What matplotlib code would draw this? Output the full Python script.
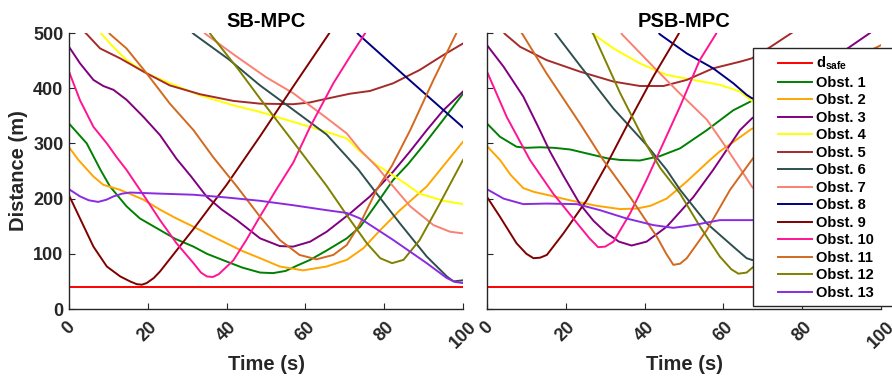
import numpy as np
import matplotlib
matplotlib.use("Agg")
import matplotlib.pyplot as plt
from matplotlib.legend_handler import HandlerLine2D

plt.rcParams['font.family'] = ['Liberation Sans', 'DejaVu Sans']
plt.rcParams['font.weight'] = 'bold'
plt.rcParams['mathtext.fontset'] = 'custom'
plt.rcParams['mathtext.bf'] = 'Liberation Sans:bold'
plt.rcParams['mathtext.rm'] = 'Liberation Sans'

# ---------------- data: (time [s], distance [m]) ----------------
d_safe_t = [0, 100]
d_safe_d = [40, 40]

# SB-MPC
sb_obs1 = [(0,336),(4.5,300),(8,252),(10.4,222),(14.6,186),(18,164),(23.1,143),(27,127),(31.6,113),
           (35,100),(40,86),(44,75),(48.5,66),(51.8,65),(55,69),(58,79),(61.2,89),(65.4,106),(70.5,128),
           (73.9,149),(78.1,191),(82.3,234),(86,262),(90,297),(95,343),(100,390)]
sb_obs2 = [(0,293),(2.4,270),(6.2,240),(8.7,225),(12.9,216),(15,210),(18.9,198),(23.1,180),(27,165),
           (31.6,149),(36,133),(40,119),(44,105),(48.5,92),(53.5,77),(59.4,70),(65.4,77),(70.5,89),
           (74.7,110),(79,143),(84,179),(90.8,222),(94.2,252),(100,303)]
sb_obs3 = [(0,475),(2.8,445),(6.2,415),(8.7,404),(11.3,397),(14.6,379),(18.9,348),(23.1,315),(27.3,272),
           (31,240),(35,203),(38.8,180),(42.6,161),(48.5,128),(53.5,114),(56.9,113),(61.2,122),(65.4,140),
           (71.3,173),(76.4,204),(82.3,249),(86.5,285),(90.8,324),(95,360),(100,394)]
sb_obs4 = [(7.5,505),(8.3,498),(10.8,478),(14.6,451),(19.7,427),(25.6,409),(33.3,387),(41.7,369),
           (48.5,357),(56.9,339),(65.4,321),(70.5,309),(73.9,285),(78.1,261),(84,234),(89,209),(95,196),(100,190)]
sb_obs5 = [(3.5,505),(4.5,498),(7.9,472),(13,454),(18.9,430),(25.6,405),(33.3,389),(41.7,377),(48.5,372),
           (56.9,371),(61,374),(65.4,381),(71.3,390),(76.4,395),(82.3,409),(89,433),(95,460),(100,481)]
sb_obs6 = [(31,503),(31.7,498),(40.6,452),(48.5,405),(56.9,361),(65.4,316),(70.5,276),(73.5,252),
           (78.1,209),(84,155),(90.8,95),(95.9,59),(97.6,50),(100,52)]
sb_obs7 = [(34,503),(34.7,498),(42,460),(50,420),(56.9,391),(65.4,346),(70.5,318),(73.9,288),(78.1,258),
           (82.3,222),(86.6,186),(92.5,152),(96.7,140),(100,137)]
sb_obs8 = [(73,502),(73.4,498),(84.8,425),(100,329)]
sb_obs9 = [(0,206),(2.8,164),(6.2,113),(9.6,77),(13,59),(15.5,50),(17.2,45),(18.5,44),(19.7,47),(21.5,56),
           (23.1,68),(31.6,145),(40,225),(48.5,313),(56.9,403),(66,499),(66.5,505)]
sb_obs10 = [(0,430),(2.8,378),(6.2,330),(9.6,300),(12.1,275),(14.6,252),(16.3,234),(19.7,198),(23.1,161),
            (27.3,119),(31.6,83),(33.5,66),(35,59),(36.5,58),(38,63),(41.7,88),(45,125),(48.5,168),
            (52.5,215),(56.9,265),(61.2,330),(67.1,409),(71.3,457),(75.1,499),(75.5,505)]
sb_obs11 = [(10,503),(10.4,498),(14.6,472),(19.7,427),(25.6,372),(31.6,324),(36.6,275),(42.6,222),
            (48.5,167),(53.5,125),(58.5,98),(62.8,90),(67.1,98),(70.5,116),(73.9,155),(78.1,216),
            (82,260),(86.6,324),(92.5,415),(98.2,498),(98.6,505)]
sb_obs12 = [(35.5,503),(35.9,498),(43.1,433),(48.5,381),(56.9,303),(62,255),(65.4,223),(70.5,170),
            (75.6,119),(79,92),(82,83),(84.9,89),(89,125),(94.1,191),(100,270)]
sb_obs13 = [(0,217),(2.8,204),(5,197),(7.4,194),(9.5,198),(11.3,204),(13.5,209),(15.5,211),(23.1,209),
            (31.6,207),(40,202),(48.5,196),(56.9,188),(65.4,179),(70.5,174),(73.9,164),(78,145),(82.3,125),
            (90.8,83),(95.9,56),(98,49),(100,47)]

# PSB-MPC
psb_obs1 = [(0,336),(3.3,312),(7.5,294),(10,292),(13.5,293),(17,292),(21.1,289),(27,279),(30.5,273),
            (33.8,270),(38.8,269),(43.9,277),(49,291),(55.8,324),(62.5,360),(67.2,377),(70,385)]
psb_obs2 = [(0,295),(3.3,270),(6,243),(9.2,219),(12,212),(15.1,207),(21,197),(27.8,187),(33.8,181),
            (38,182),(41.5,187),(45.6,200),(50.7,231),(56.6,270),(59,285),(63,305),(67.1,326),(70,335)]
psb_obs3 = [(0,478),(4.2,439),(9.2,385),(13,330),(16,285),(19.5,240),(23.6,190),(27,160),(30.4,137),
            (33.5,122),(36.7,115),(40.5,122),(45.6,149),(52.4,203),(57.4,252),(64.2,324),(67.2,345),
            (75,385),(85,440),(97.2,500),(98,505)]
psb_obs4 = [(26.5,503),(27,498),(32.1,472),(38.8,445),(45.6,424),(52.4,415),(59.1,406),(64.2,394),
            (67.2,377),(70,365)]
psb_obs5 = [(4,503),(4.6,498),(8.4,475),(15.1,451),(23.6,430),(32.1,412),(38.8,404),(44.8,404),(50.7,415),
            (57.4,436),(64.2,448),(67.2,454),(72,475),(77.3,500),(80,512)]
psb_obs6 = [(17,503),(17.5,498),(23.6,441),(32.1,363),(40.5,297),(45.6,252),(49,216),(55.8,155),
            (62.5,113),(65.9,92),(67.2,89),(70,87)]
psb_obs7 = [(34,503),(34.2,498),(42.2,439),(49,390),(55.8,343),(60,300),(64.2,255),(67.2,222),(70,200)]
psb_obs8 = [(43.5,503),(43.8,498),(50.7,463),(57.4,436),(62.5,409),(65.9,388),(67.2,382),(70,378)]
psb_obs9 = [(0,203),(3.3,167),(7.5,119),(10,100),(11.8,92),(13.5,93),(15.2,98),(19.4,137),(25.3,197),
            (30.4,262),(36.3,343),(42.2,421),(48.6,498),(49,505)]
psb_obs10 = [(0,430),(5,348),(10.9,270),(16.8,209),(23.6,149),(26,128),(28.2,112),(30,113),(32.1,122),
             (36.3,173),(40.5,234),(49,367),(54,451),(58.1,498),(58.5,505)]
psb_obs11 = [(8.5,503),(9,498),(15.1,427),(23.6,336),(29.5,270),(36.3,203),(43.1,131),(45.5,100),
             (47.3,80),(49,82),(50.7,92),(55.8,143),(61.7,216),(67.2,270),(75,340),(85,410),(92,450),(100,478)]
psb_obs12 = [(26.5,503),(27,498),(33.8,391),(40.5,297),(44,255),(49,209),(54.1,149),(59.1,95),(62,72),
             (63.8,64),(65.9,66),(67.2,74),(70,90)]
psb_obs13 = [(0,217),(4.2,200),(9.2,190),(15.1,191),(22.8,190),(28.7,179),(35.4,164),(42.2,152),
             (47.3,147),(52.4,152),(59.1,161),(67.2,161),(70,161)]

sb_series = [sb_obs1, sb_obs2, sb_obs3, sb_obs4, sb_obs5, sb_obs6, sb_obs7,
             sb_obs8, sb_obs9, sb_obs10, sb_obs11, sb_obs12, sb_obs13]
psb_series = [psb_obs1, psb_obs2, psb_obs3, psb_obs4, psb_obs5, psb_obs6, psb_obs7,
              psb_obs8, psb_obs9, psb_obs10, psb_obs11, psb_obs12, psb_obs13]

obs_labels = [f"Obst. {i}" for i in range(1, 14)]
obs_colors = ['#008000', '#FFA500', '#800080', '#FFFF00', '#A52A2A', '#2F4F4F', '#FA8072',
              '#000080', '#800000', '#FF1493', '#D2691E', '#808000', '#8A2BE2']
titles = ['SB-MPC', 'PSB-MPC']
x_ticks = [0, 20, 40, 60, 80, 100]
y_ticks = [0, 100, 200, 300, 400, 500]

AX_COLOR = '#262626'
LW = 1.4


class RightAlignedLine(HandlerLine2D):
    """Legend line drawn in the right part of the handle box."""
    def get_xdata(self, legend, xdescent, ydescent, width, height, fontsize):
        x0 = -xdescent + width * 0.36
        x1 = -xdescent + width
        return np.array([x0, x1]), np.array([(x0 + x1) / 2])


fig = plt.figure(figsize=(8.92, 3.79), dpi=100)
W, H = 892, 379
ax_l = fig.add_axes([69 / W, (H - 309) / H, 394 / W, 276 / H])
ax_r = fig.add_axes([487 / W, (H - 309) / H, 394 / W, 276 / H])

for ax, series, title in zip([ax_l, ax_r], [sb_series, psb_series], titles):
    ax.plot(d_safe_t, d_safe_d, color='#FF0000', lw=LW, label=r'$\mathbf{d}_{\mathbf{safe}}$')
    for pts, col, lab in zip(series, obs_colors, obs_labels):
        t, d = zip(*pts)
        ax.plot(t, d, color=col, lw=LW, label=lab)
    ax.set_xlim(0, 100)
    ax.set_ylim(0, 500)
    ax.set_xticks(x_ticks)
    ax.set_yticks(y_ticks)
    ax.set_xticklabels([str(v) for v in x_ticks], rotation=45, ha='center', va='top',
                       fontsize=13, fontweight='bold', color=AX_COLOR)
    ax.tick_params(direction='in', length=4, width=0.8, colors=AX_COLOR, pad=7)
    for side in ['top', 'right']:
        ax.spines[side].set_visible(False)
    for side in ['left', 'bottom']:
        ax.spines[side].set_color(AX_COLOR)
        ax.spines[side].set_linewidth(1.0)
    ax.set_title(title, fontsize=14.5, fontweight='bold', pad=4)
    ax.set_xlabel('Time (s)', fontsize=14.5, fontweight='bold', labelpad=2, color=AX_COLOR)

ax_l.set_yticklabels([str(v) for v in y_ticks], fontsize=13, fontweight='bold', color=AX_COLOR)
ax_l.tick_params(axis='y', pad=4)
ax_l.set_ylabel('Distance (m)', fontsize=14.5, fontweight='bold', labelpad=4, color=AX_COLOR)
ax_r.set_yticklabels([])

handles, labels = ax_r.get_legend_handles_labels()
leg = ax_r.legend(handles, labels, loc='upper left', bbox_to_anchor=(0.675, 0.0145, 0.36, 0.931),
                  mode='expand', borderaxespad=0, fontsize=10.5, handlelength=3.6,
                  handletextpad=0.3, labelspacing=0.24, borderpad=0.45, fancybox=False,
                  framealpha=1, edgecolor=AX_COLOR,
                  handler_map={matplotlib.lines.Line2D: RightAlignedLine()})
leg.get_frame().set_linewidth(1.0)
for txt in leg.get_texts():
    txt.set_fontweight('bold')

fig.savefig('out.png', dpi=100)
